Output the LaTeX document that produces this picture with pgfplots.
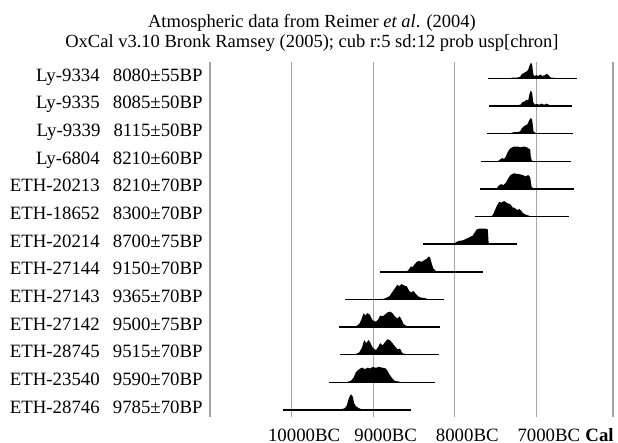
\documentclass[border=0pt]{standalone}
\usepackage{fontspec}
\setmainfont{Liberation Serif}
\usepackage{pgfplots}
\pgfplotsset{compat=1.18}
\usepackage{pgfplotstable}

\definecolor{gridgray}{RGB}{165,165,165}

% calibrated probability, year (negative = BC) and relative density
\pgfplotstableread{
yr p
-7313 0
-7292 0.05
-7231 0.05
-7198 0.1
-7182 0.25
-7150 0.35
-7117 0.45
-7100 0.55
-7084 0.8
-7068 1.0
-7051 0.9
-7039 0.3
-7027 0.15
-6998 0.2
-6974 0.15
-6953 0.25
-6925 0.15
-6896 0.2
-6872 0.3
-6851 0.2
-6823 0.05
-6761 0.02
-6733 0
}\distA
\pgfplotstableread{
yr p
-7272 0
-7231 0.03
-7190 0.1
-7170 0.25
-7141 0.3
-7121 0.4
-7100 0.35
-7084 0.75
-7068 1.0
-7051 0.85
-7039 0.25
-7019 0.1
-6986 0.12
-6962 0.08
-6937 0.15
-6904 0.08
-6872 0.15
-6847 0.08
-6802 0
}\distB
\pgfplotstableread{
yr p
-7321 0
-7305 0.05
-7272 0.1
-7231 0.1
-7198 0.15
-7182 0.3
-7158 0.45
-7129 0.55
-7108 0.6
-7088 0.85
-7068 1.0
-7051 0.9
-7035 0.15
-7006 0.02
-6966 0.03
-6925 0.02
-6843 0.02
-6823 0
}\distC
\pgfplotstableread{
yr p
-7484 0
-7456 0.05
-7435 0.15
-7415 0.2
-7395 0.15
-7374 0.3
-7354 0.55
-7333 0.75
-7313 0.85
-7292 0.9
-7272 0.95
-7231 0.95
-7190 0.9
-7150 0.95
-7117 0.9
-7088 0.8
-7076 0.8
-7068 0.3
-7055 0.05
-7035 0
}\distD
\pgfplotstableread{
yr p
-7496 0
-7476 0.1
-7455 0.25
-7427 0.3
-7402 0.25
-7373 0.4
-7353 0.6
-7324 0.85
-7300 0.95
-7271 1.0
-7210 0.95
-7169 0.9
-7128 0.8
-7100 0.9
-7075 0.75
-7059 0.15
-7034 0.02
-7006 0
}\distE
\pgfplotstableread{
yr p
-7557 0
-7533 0.1
-7508 0.4
-7484 0.7
-7455 0.95
-7427 0.9
-7394 1.0
-7353 0.85
-7320 0.8
-7292 0.6
-7263 0.55
-7230 0.4
-7210 0.5
-7190 0.4
-7169 0.25
-7141 0.15
-7116 0.1
-7087 0.05
-7067 0
}\distF
\pgfplotstableread{
yr p
-8240 0
-8170 0.05
-8130 0.03
-8010 0.04
-7975 0.15
-7940 0.22
-7900 0.25
-7860 0.35
-7820 0.45
-7780 0.55
-7750 0.8
-7730 0.95
-7700 1.0
-7620 1.0
-7595 0.95
-7585 0.1
-7570 0
}\distG
\pgfplotstableread{
yr p
-8599 0
-8570 0.1
-8538 0.35
-8517 0.3
-8497 0.45
-8464 0.65
-8435 0.7
-8407 0.65
-8374 0.75
-8342 0.85
-8317 1.0
-8301 0.9
-8280 0.5
-8260 0.2
-8231 0.05
-8211 0
}\distH
\pgfplotstableread{
yr p
-9110 0
-9028 0.02
-8946 0.02
-8864 0.05
-8803 0.2
-8762 0.5
-8730 0.75
-8701 0.95
-8681 0.85
-8652 1.0
-8619 0.9
-8587 0.85
-8558 0.55
-8538 0.45
-8505 0.55
-8476 0.35
-8448 0.2
-8415 0.12
-8374 0.1
-8342 0.05
-8313 0
}\distI
\pgfplotstableread{
yr p
-9273 0
-9212 0.05
-9171 0.2
-9143 0.5
-9118 0.9
-9098 0.75
-9069 0.9
-9040 0.8
-9008 0.45
-8967 0.35
-8938 0.5
-8914 0.75
-8885 0.7
-8857 0.8
-8824 0.95
-8791 1.0
-8763 0.9
-8734 0.7
-8701 0.55
-8677 0.7
-8652 0.5
-8628 0.2
-8599 0.1
-8558 0.04
-8497 0
}\distJ
\pgfplotstableread{
yr p
-9273 0
-9212 0.05
-9171 0.15
-9138 0.45
-9110 0.95
-9085 0.75
-9057 0.95
-9036 0.8
-9004 0.45
-8967 0.3
-8938 0.5
-8914 0.75
-8885 0.6
-8857 0.8
-8824 1.0
-8795 0.95
-8763 0.75
-8734 0.55
-8701 0.35
-8672 0.4
-8640 0.1
-8599 0.04
-8538 0
}\distK
\pgfplotstableread{
yr p
-9335 0
-9274 0.1
-9241 0.3
-9212 0.65
-9184 0.8
-9159 0.9
-9131 0.95
-9102 0.85
-9069 0.95
-9037 0.9
-9008 1.0
-8967 0.95
-8926 1.0
-8886 0.95
-8845 0.9
-8824 0.75
-8792 0.45
-8763 0.25
-8734 0.1
-8681 0.05
-8640 0
}\distL
\pgfplotstableread{
yr p
-9641 0
-9519 0.02
-9396 0.05
-9347 0.12
-9323 0.3
-9302 0.7
-9282 0.95
-9265 1.0
-9249 0.85
-9233 0.45
-9212 0.25
-9184 0.15
-9151 0.07
-9110 0.04
-9028 0.02
-8967 0.04
-8926 0.02
-8865 0
}\distM

% row, distribution, range start, range end
\newcommand{\sample}[4]{%
  \addplot[draw=none, fill=black] table[x=yr, y expr={#1+0.56*\thisrow{p}}] {#2};
  \addplot[black, line width=0.7pt] coordinates {(#3,#1) (#4,#1)};
}

\begin{document}
\begin{tikzpicture}
\begin{axis}[
  scale only axis,
  width=201.5pt, height=177.5pt,
  xmin=-11000, xmax=-6060,
  ymin=-0.25, ymax=12.59,
  axis line style={draw=none},
  major tick length=0pt,
  scaled x ticks=false,
  xtick={-11000,-10000,-9000,-8000,-7000,-6060},
  xticklabels={,10000\rlap{BC},9000\rlap{BC},8000\rlap{BC},7000\rlap{BC\hspace{0.28em}\textbf{Cal}},},
  xmajorgrids,
  major grid style={gridgray, line width=0.6pt},
  ytick={0,...,12},
  yticklabels={
    ETH-28746\hspace{0.7em}9785±70BP,
    ETH-23540\hspace{0.7em}9590±70BP,
    ETH-28745\hspace{0.7em}9515±70BP,
    ETH-27142\hspace{0.7em}9500±75BP,
    ETH-27143\hspace{0.7em}9365±70BP,
    ETH-27144\hspace{0.7em}9150±70BP,
    ETH-20214\hspace{0.7em}8700±75BP,
    ETH-18652\hspace{0.7em}8300±70BP,
    ETH-20213\hspace{0.7em}8210±70BP,
    Ly-6804\hspace{0.7em}8210±60BP,
    Ly-9339\hspace{0.7em}8115±50BP,
    Ly-9335\hspace{0.7em}8085±50BP,
    Ly-9334\hspace{0.7em}8080±55BP},
  every tick label/.append style={font=\fontsize{9.4}{11}\selectfont},
  xticklabel style={anchor=base, inner sep=0pt, yshift=-12.3pt},
  yticklabel style={anchor=base east, inner sep=0pt, xshift=-3.5pt, yshift=-1.5pt},
  clip=false,
]
\sample{12}{\distA}{-7591}{-6496}
\sample{11}{\distB}{-7578}{-6557}
\sample{10}{\distC}{-7607}{-6549}
\sample{9}{\distD}{-7680}{-6578}
\sample{8}{\distE}{-7692}{-6544}
\sample{7}{\distF}{-7753}{-6605}
\sample{6}{\distG}{-8387}{-7231}
\sample{5}{\distH}{-8913}{-7651}
\sample{4}{\distI}{-9346}{-8129}
\sample{3}{\distJ}{-9416}{-8178}
\sample{2}{\distK}{-9404}{-8191}
\sample{1}{\distL}{-9539}{-8240}
\sample{0}{\distM}{-10111}{-8538}

\node[anchor=base, font=\fontsize{9.25}{11}\selectfont] at (rel axis cs:0.2531,1) [yshift=17pt]
  {Atmospheric data from Reimer \textit{et al}. (2004)};
\node[anchor=base, font=\fontsize{9.25}{11}\selectfont] at (rel axis cs:0.2531,1) [yshift=7pt]
  {OxCal v3.10 Bronk Ramsey (2005); cub r:5 sd:12 prob usp[chron]};
\path (rel axis cs:0,0) ++(-105pt,-13pt);
\path (rel axis cs:1,1) ++(2.5pt,31pt);
\end{axis}
\end{tikzpicture}
\end{document}
